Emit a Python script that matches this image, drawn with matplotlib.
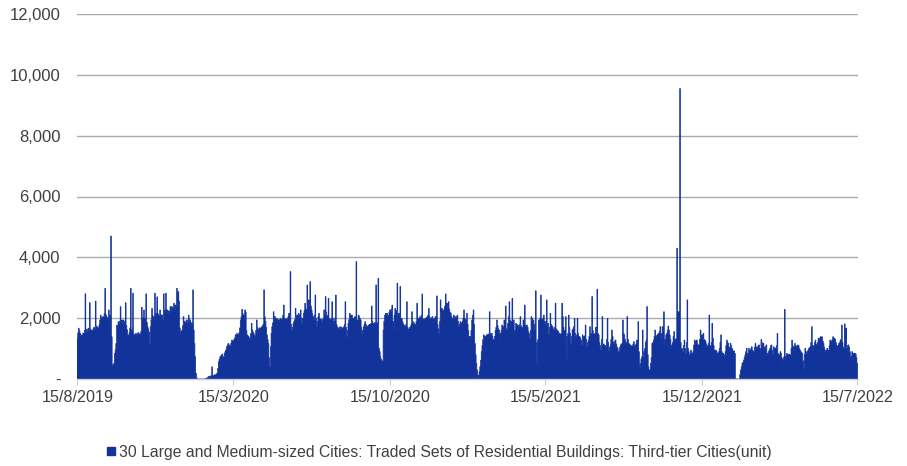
import matplotlib
matplotlib.use("Agg")
import matplotlib.pyplot as plt
import matplotlib.dates as mdates
from matplotlib.lines import Line2D
import pandas as pd
import numpy as np

plt.rcParams['font.family'] = ['Liberation Sans', 'DejaVu Sans']

# ---- daily values (units) ----
# 2019-08-15 .. 2020-01-23
seg_2019 = [
    1340, 1520, 1670, 1580, 1500, 1420, 1450, 1380, 1510, 1500,
    1600, 2800, 1640, 1560, 1620, 1670, 1590, 2510, 1640, 1610,
    1580, 1610, 1670, 1700, 1650, 2560, 1740, 1720, 1690, 1670,
    1780, 1940, 2100, 1980, 2010, 2050, 1990, 2150, 2980, 2120,
    2050, 1960, 2010, 2270, 2100, 1610, 4700, 1390, 460, 430,
    520, 840, 960, 1170, 1770, 1700, 1880, 1810, 1900, 2380,
    1850, 1940, 1870, 1940, 1820, 1900, 2510, 1760, 1620, 1450,
    1390, 1520, 1680, 2980, 1620, 1550, 2820, 1480, 1390, 1460,
    1500, 1420, 1480, 1530, 1500, 1470, 1450, 1560, 2360, 1890,
    2010, 2270, 1990, 1940, 2800, 1870, 1720, 1650, 1540, 1170,
    1720, 1940, 2320, 2080, 2050, 1960, 2820, 2160, 2040, 2700,
    2150, 2100, 1980, 2270, 2120, 2060, 2100, 1950, 2800, 2200,
    2270, 2820, 2150, 2270, 2190, 2240, 2160, 2380, 2210, 2380,
    2300, 2350, 2490, 2280, 2430, 2340, 2980, 2420, 2870, 2560,
    1680, 1500, 1560, 1610, 1750, 2050, 1900, 1880, 1830, 1940,
    1940, 1860, 2100, 1980, 1940, 1870, 1760, 1820, 2930, 1610,
    1170, 730,
]
# 2020-01-24 .. 2020-02-24
seg_cny2020 = [
    190, 40, 0, 0, 0, 0, 0, 0,
    0, 0, 0, 0, 0, 10, 20, 30, 50, 80,
    60, 90, 70, 120, 400, 110, 100, 130, 140, 130,
    170, 190, 350, 570,
]
# 2020-02-25 .. 2020-08-21
seg_2020a = [
    650, 730, 760, 790, 820, 730,
    730, 850, 900, 960, 1060, 1100, 1170, 1130, 1090, 1060,
    1180, 1280, 1250, 1230, 1300, 1350, 1450, 1420, 1500, 1460,
    1340, 1520, 1680, 1940, 2050, 2290, 2150, 2050, 2100, 2270,
    2200, 1600, 1450, 1420, 1390, 1350, 1280, 1500, 1830, 1620,
    1550, 1500, 1420, 1340, 1600, 1940, 1700, 1650, 1610, 1680,
    1610, 1690, 1720, 1750, 1800, 2930, 2050, 1900, 1700, 1450,
    1300, 1170, 700, 400, 1060, 1500, 1720, 1850, 2210, 2000,
    2050, 1990, 1940, 1980, 1950, 1940, 1900, 1995, 1960, 1940,
    2000, 2100, 2430, 2000, 1940, 1980, 1940, 1990, 2050, 2160,
    2100, 3530, 1800, 1610, 1700, 1830, 1900, 1950, 2320, 2100,
    2050, 2100, 2160, 2050, 2120, 2270, 2000, 1830, 2000, 2160,
    2250, 2490, 2300, 2200, 3090, 2350, 2600, 2280, 3200, 2400,
    2270, 2150, 2050, 1940, 2100, 2760, 2000, 1720, 1900, 2050,
    2160, 2000, 1940, 1960, 1885, 1950, 2000, 2270, 2100, 2710,
    2200, 2050, 2100, 2650, 2000, 1960, 1940, 2000, 2540, 2000,
    1830, 1900, 2000, 2760, 1800, 1720, 1680, 1610, 1700, 1720,
    1650, 1700, 1610, 1680, 1720, 1800, 2540, 1700, 1390, 1600,
    1830, 1950, 2160,
]
# 2020-08-22 .. 2021-02-10
seg_2020b = [
    2050, 2100, 2100, 2000, 1940, 2000, 2050,
    2000, 3860, 1940, 1940, 2100, 2050, 1990, 1940, 1700, 1500,
    1600, 1720, 1800, 1885, 1800, 1720, 1720, 1750, 1775, 1800,
    1775, 1820, 2400, 1900, 1830, 1830, 1850, 1830, 3090, 1850,
    1830, 3310, 1010, 900, 730, 650, 600, 570, 1610, 1900,
    2100, 2160, 2100, 2160, 2050, 2100, 2200, 2270, 2200, 2300,
    2430, 1900, 1610, 2100, 2320, 2200, 2250, 3150, 2100, 2160,
    2050, 3040, 2000, 1995, 1900, 1820, 1775, 1740, 1720, 1800,
    2540, 1700, 1560, 1650, 1700, 1720, 1800, 2210, 1900, 1830,
    1850, 1800, 1720, 1900, 2490, 2000, 1940, 2000, 2050, 2000,
    2100, 2795, 1980, 1940, 1960, 1995, 2000, 2020, 2050, 2100,
    2320, 2050, 1995, 2000, 2020, 2050, 1980, 1940, 2000, 2050,
    2000, 2730, 1800, 1650, 1500, 1900, 2600, 2200, 2320, 2250,
    2210, 2300, 2400, 2795, 2400, 2490, 2350, 2540, 2300, 2200,
    2160, 2050, 1940, 2000, 2100, 2050, 1995, 2050, 2000, 2100,
    1900, 1720, 1800, 1885, 1850, 1830, 1900, 2000, 2270, 2000,
    1885, 1950, 2160, 1800, 1600, 1390, 1400, 1340, 1600, 1940,
    2100, 2270, 1800, 1170, 800, 515,
]
# 2021-02-11 .. 2021-07-15
seg_2021a = [
    300, 130, 60, 240,
    400, 620, 900, 1100, 1300, 1450, 1400, 1390, 1420, 1450,
    1450, 1480, 1450, 2210, 1500, 1450, 1500, 1400, 1300, 1280,
    1400, 1610, 1700, 1940, 1750, 1650, 1610, 1500, 1340, 1600,
    1775, 1700, 1720, 1940, 1800, 2400, 1650, 1610, 1830, 2050,
    2540, 1940, 1900, 1850, 2650, 1900, 1940, 1230, 1600, 1830,
    1800, 1775, 1760, 1720, 1800, 2050, 1750, 1670, 1700, 1940,
    1850, 2430, 1720, 1760, 1775, 1700, 1560, 1500, 1340, 1600,
    2050, 1995, 1900, 1940, 1800, 1610, 2900, 1200, 515, 1300,
    1940, 1900, 2000, 2760, 1950, 1940, 2000, 2100, 1900, 1885,
    1800, 2600, 1800, 1830, 1450, 1700, 2160, 1800, 1750, 1720,
    1650, 1610, 1700, 2490, 1650, 1610, 1580, 1560, 1500, 1480,
    1450, 1500, 2490, 2050, 1700, 1560, 1600, 2050, 1400, 680,
    1500, 2100, 1700, 1500, 1170, 1400, 1610, 1650, 1720, 1995,
    1500, 1390, 1450, 1995, 1500, 1400, 1390, 1350, 1280, 1120,
    1450, 1400, 1390, 1420, 1775, 1300, 1060, 1200, 1280, 1400,
    1720,
]
# 2021-07-16 .. 2022-01-30
seg_2021b = [
    1450, 1500, 2710, 1600, 1450, 1480, 1500, 1700, 1600,
    2950, 1500, 1450, 1200, 1100, 950, 1300, 2050, 1120, 1150,
    1060, 1100, 1060, 1300, 1995, 1200, 950, 1050, 1120, 1300,
    1610, 1400, 1200, 1170, 1250, 1280, 1150, 1060, 1000, 790,
    900, 1050, 1120, 1150, 1170, 1940, 1500, 1450, 1300, 1200,
    1170, 2050, 1300, 1170, 1150, 1120, 1100, 1080, 1060, 1150,
    1230, 1100, 1010, 1150, 1280, 1250, 1885, 900, 350, 500,
    650, 730, 1610, 900, 730, 1000, 1200, 1280, 2380, 800,
    400, 300, 300, 515, 700, 1170, 1200, 1280, 1400, 1610,
    1390, 1420, 1450, 1480, 1500, 1560, 1720, 1500, 1340, 1720,
    1600, 2210, 1170, 1300, 1450, 1500, 1610, 1740, 1600, 1450,
    1300, 1060, 1120, 1200, 1400, 1560, 1300, 1230, 1340, 4300,
    2210, 2210, 2200, 9550, 1200, 950, 1000, 900, 1100, 1280,
    1000, 840, 1200, 2600, 1010, 900, 730, 800, 950, 850,
    730, 900, 1120, 1280, 1200, 1250, 1280, 1150, 1060, 1120,
    1300, 1610, 1450, 1450, 1400, 1500, 1300, 1280, 1230, 1150,
    1060, 1100, 1170, 2100, 1100, 1060, 1200, 1830, 1340, 1100,
    900, 950, 950, 900, 790, 850, 900, 1000, 1200, 1450,
    900, 850, 840, 800, 730, 900, 1100, 1280, 1200, 1170,
    1050, 1010, 1170, 1100, 1010, 950, 900, 920, 840, 20,
]
# 2022-01-31 .. 2022-07-15
seg_2022 = [
    0, 0, 0, 0, 0, 150, 300, 400, 515, 550,
    620, 700, 790, 900, 1010, 730, 850, 1010, 900, 950,
    1000, 1060, 950, 920, 900, 1050, 1170, 1050, 1010, 1060,
    1100, 1120, 1000, 900, 1300, 1200, 1100, 1170, 1050, 1010,
    1080, 1120, 790, 850, 900, 950, 1010, 1100, 1120, 950,
    790, 1060, 1000, 1020, 1010, 1100, 1500, 840, 800, 730,
    900, 850, 700, 515, 650, 730, 2290, 620, 750, 840,
    800, 790, 820, 790, 790, 1000, 1280, 1100, 950, 1050,
    1170, 1100, 1060, 1080, 1120, 1100, 1000, 950, 900, 870,
    840, 600, 350, 800, 1010, 900, 840, 900, 950, 1010,
    1030, 1060, 1200, 1720, 1100, 950, 1100, 1200, 1280, 1150,
    1120, 1200, 1340, 1300, 1350, 1390, 1300, 1390, 1250, 1170,
    1050, 950, 900, 950, 1010, 950, 900, 1100, 1280, 1250,
    1230, 1300, 1390, 1350, 1340, 1300, 1200, 1100, 1010, 1100,
    1170, 1200, 1280, 1300, 1775, 1200, 1050, 1010, 1810, 1300,
    1670, 1010, 1100, 1120, 1050, 900, 620, 750, 900, 850,
    790, 850, 840, 820, 700, 515,
]

segments = [
    ("2019-08-15", seg_2019),
    ("2020-01-24", seg_cny2020),
    ("2020-02-25", seg_2020a),
    ("2020-08-22", seg_2020b),
    ("2021-02-11", seg_2021a),
    ("2021-07-16", seg_2021b),
    ("2022-01-31", seg_2022),
]

tick_dates = ["2019-08-15", "2020-03-15", "2020-10-15", "2021-05-15", "2021-12-15", "2022-07-15"]
tick_labels = ["15/8/2019", "15/3/2020", "15/10/2020", "15/5/2021", "15/12/2021", "15/7/2022"]
y_ticks = [0, 2000, 4000, 6000, 8000, 10000, 12000]
y_labels = ["-", "2,000", "4,000", "6,000", "8,000", "10,000", "12,000"]
series_name = "30 Large and Medium-sized Cities: Traded Sets of Residential Buildings: Third-tier Cities(unit)"

frames = []
for start, vals in segments:
    frames.append(pd.Series(vals, index=pd.date_range(start, periods=len(vals), freq="D")))
data = pd.concat(frames)
data = data[~data.index.duplicated(keep="first")].sort_index()
data = data.asfreq("D", fill_value=0)

navy = "#12339A"
text_col = "#404040"

fig = plt.figure(figsize=(9.07, 4.66), dpi=100)
ax = fig.add_axes([77 / 907, 1 - 379 / 466, (858 - 77) / 907, (379 - 14) / 466])

# one bar per day, drawn as a single filled step outline (no seams between bars)
x = mdates.date2num(data.index.to_pydatetime())
edges = np.append(x - 0.5, x[-1] + 0.5)
ax.stairs(data.values, edges, baseline=0, fill=True, facecolor=navy, edgecolor=navy,
          linewidth=0.5, zorder=3)

d0 = mdates.date2num(pd.Timestamp("2019-08-15").to_pydatetime())
ax.set_xlim(d0 - 0.5, d0 + 1066)
ax.set_ylim(0, 12000)

ax.set_yticks(y_ticks)
ax.set_yticklabels(y_labels, fontsize=12, color=text_col)
ax.tick_params(axis="y", length=0, pad=12)

ax.set_xticks([mdates.date2num(pd.Timestamp(d).to_pydatetime()) for d in tick_dates])
ax.set_xticklabels(tick_labels, fontsize=11.6, color=text_col)
ax.tick_params(axis="x", length=4, color="#C8CEDA", pad=4)

ax.grid(axis="y", color="#ABABAB", linewidth=1.0, zorder=0)
ax.set_axisbelow(True)
for s in ["left", "right", "top"]:
    ax.spines[s].set_visible(False)
ax.spines["bottom"].set_color("#C8CEDA")
ax.spines["bottom"].set_linewidth(1.0)
ax.spines["bottom"].set_zorder(4)

handle = Line2D([], [], marker="s", linestyle="", color=navy, markersize=5.5)
fig.legend([handle], [series_name], loc="center", bbox_to_anchor=(438 / 907, 1 - 452 / 466),
           frameon=False, fontsize=11.3, handletextpad=0.1, handlelength=0.8,
           labelcolor=text_col, borderaxespad=0)

fig.savefig("out.png", dpi=100)
